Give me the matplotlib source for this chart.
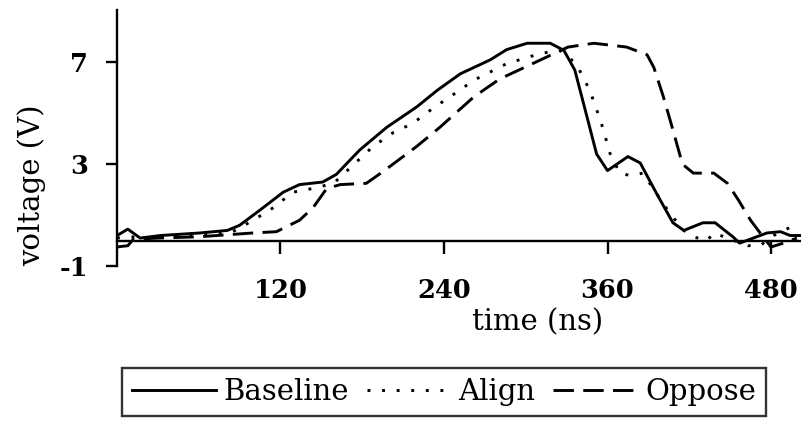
import matplotlib
matplotlib.use("Agg")
import matplotlib.pyplot as plt

plt.rcParams['font.family'] = ['DejaVu Serif']

# values (time in ns, voltage in V)
t_base = [0, 8, 17, 32, 61, 81, 90, 105, 122, 134, 151, 161, 178, 198, 220, 235,
          252, 274, 286, 301, 318, 328, 336, 345, 352, 360, 375, 384, 396, 408,
          416, 430, 439, 452, 457, 467, 477, 487, 494, 502]
v_base = [0.2, 0.45, 0.1, 0.2, 0.3, 0.4, 0.6, 1.2, 1.9, 2.2, 2.3, 2.6, 3.55, 4.45,
          5.25, 5.9, 6.55, 7.1, 7.5, 7.75, 7.75, 7.47, 6.7, 4.85, 3.4, 2.75, 3.3,
          3.05, 1.85, 0.7, 0.4, 0.7, 0.7, 0.15, -0.1, 0.1, 0.3, 0.35, 0.2, 0.2]

t_align = [0, 10, 20, 40, 60, 85, 100, 115, 129, 144, 159, 174, 188, 203, 217, 232,
           250, 262, 286, 311, 325, 337, 347, 355, 362, 369, 377, 386, 396, 406,
           416, 423, 433, 438, 448, 463, 472, 482, 497]
v_align = [0.1, 0.15, 0.1, 0.15, 0.2, 0.35, 0.8, 1.3, 1.9, 2.05, 2.25, 3.0, 3.7,
           4.25, 4.6, 5.2, 5.85, 6.3, 6.95, 7.35, 7.47, 6.95, 5.9, 4.7, 3.4, 2.65,
           2.55, 2.65, 1.85, 1.05, 0.4, 0.15, 0.0, 0.3, 0.1, -0.2, -0.2, 0.2, 0.6]

t_opp = [0, 8, 12, 30, 60, 100, 117, 134, 144, 154, 164, 183, 195, 220, 237, 262,
         281, 311, 331, 350, 374, 389, 394, 401, 408, 415, 423, 438, 448, 456,
         465, 472, 480, 489, 499]
v_opp = [-0.25, -0.2, 0.05, 0.1, 0.15, 0.3, 0.35, 0.8, 1.3, 2.05, 2.2, 2.25, 2.7,
         3.7, 4.45, 5.65, 6.35, 7.1, 7.6, 7.75, 7.6, 7.3, 6.8, 5.65, 4.35, 3.0,
         2.65, 2.65, 2.25, 1.6, 0.8, 0.3, -0.25, -0.1, 0.1]

x_ticks = [120, 240, 360, 480]
y_ticks = [-1, 3, 7]

fig = plt.figure(figsize=(8.01, 4.23), dpi=100)
ax = fig.add_axes([0.146, 0.371, 0.854, 0.605])

ax.plot(t_base, v_base, color='black', lw=2.1, label='Baseline')
ax.plot(t_align, v_align, color='black', lw=2.1, linestyle=(0, (1, 4)), label='Align')
ax.plot(t_opp, v_opp, color='black', lw=2.1, linestyle=(0, (7, 3.2)), label='Oppose')

ax.set_xlim(0, 502)
ax.set_ylim(-1, 9.05)

# x axis sits on the zero line
ax.spines['top'].set_visible(False)
ax.spines['right'].set_visible(False)
ax.spines['bottom'].set_position(('data', 0))
ax.spines['bottom'].set_linewidth(1.7)
ax.spines['left'].set_linewidth(1.7)

ax.set_xticks(x_ticks)
ax.set_yticks(y_ticks)
ax.set_xticklabels([str(v) for v in x_ticks], fontweight='bold')
ax.set_yticklabels([str(v) for v in y_ticks], fontweight='bold')
ax.tick_params(axis='x', direction='out', length=9, width=1.7, pad=18, labelsize=18.5)
ax.tick_params(axis='y', direction='out', length=8, width=1.7, pad=13, labelsize=18.5)

ax.set_xlabel('time (ns)', fontsize=21)
ax.xaxis.set_label_coords(0.615, -0.165)
ax.set_ylabel('voltage (V)', fontsize=21)
ax.yaxis.set_label_coords(-0.125, 0.316)
ax.yaxis.label.set_va('center')

leg = fig.legend(loc='center', bbox_to_anchor=(0.554, 0.073), ncol=3,
                 fontsize=21, frameon=True, fancybox=False, edgecolor='black',
                 handlelength=2.9, handletextpad=0.25, columnspacing=0.6,
                 borderpad=0.35, borderaxespad=0)
leg.get_frame().set_linewidth(1.7)

fig.savefig('out.png', dpi=100)
